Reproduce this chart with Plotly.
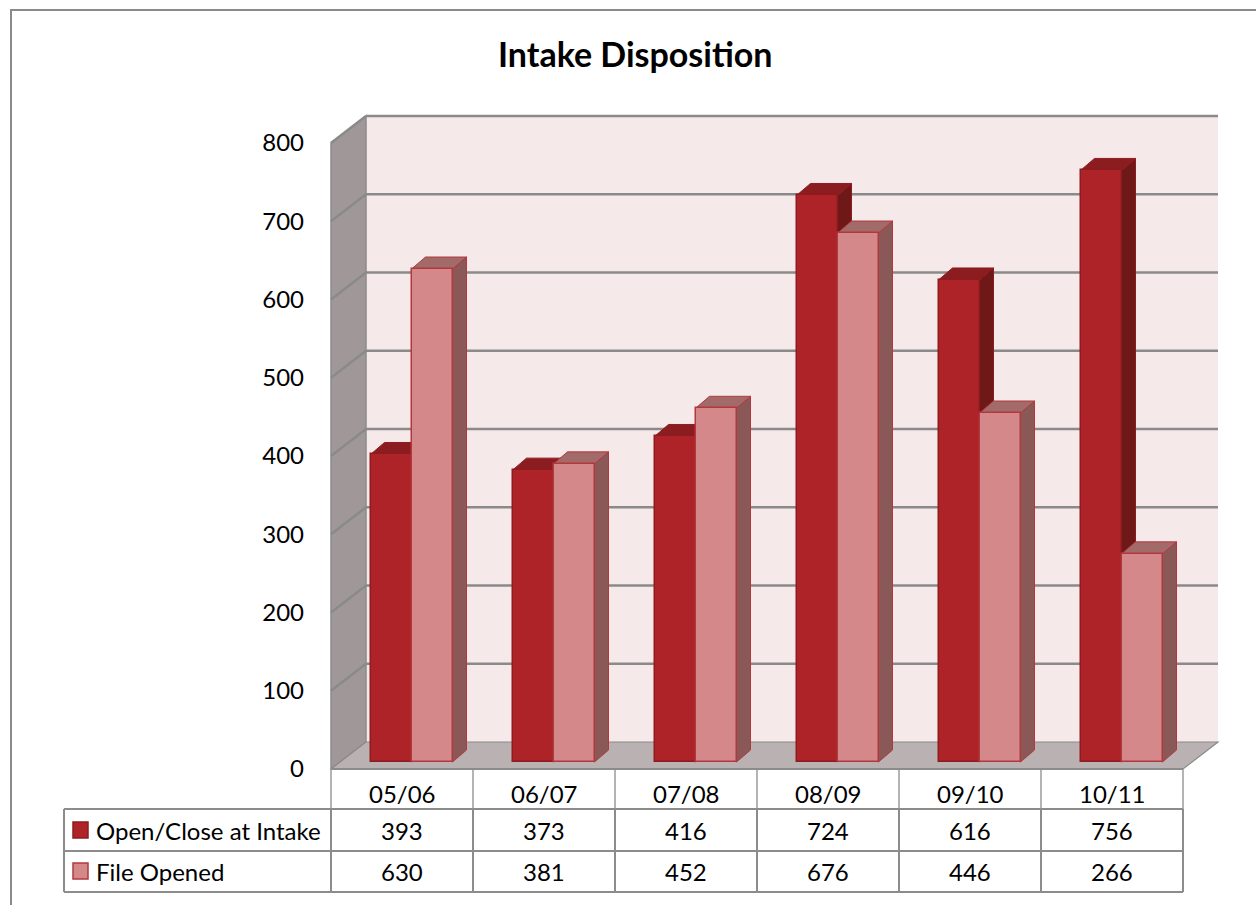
import plotly.graph_objects as go

# ---- data -------------------------------------------------------------
categories = ["05/06", "06/07", "07/08", "08/09", "09/10", "10/11"]
open_close = [393, 373, 416, 724, 616, 756]
file_opened = [630, 381, 452, 676, 446, 266]
series_names = ["Open/Close at Intake", "File Opened"]
y_ticks = [0, 100, 200, 300, 400, 500, 600, 700, 800]
title_text = "Intake Disposition"

# ---- page geometry (pixels) ------------------------------------------
W, H = 1256, 905
L, R, T, B = 320, 1230, 100, 780          # plot area
SLOT = 142.0                               # px per category
PXV = 0.7825                               # px per value unit
X0 = 402.0                                 # px centre of first category
Y0 = 769.0                                 # px of value 0 on the front plane

def dx(px):
    return px / SLOT

def dy(px):
    return px / PXV

def paper_x(px):
    return (px - L) / (R - L)

def paper_y(py):
    return (B - py) / (B - T)

# 3D box depth and bar placement (in axis units)
WDX, WDY = dx(35), dy(27)                  # wall depth
BAR_SHIFT, BAR_BASE = dx(9.5), dy(7)       # bars sit midway into the floor
BW = dx(41)                                # bar width
DDX, DDY = dx(14), dy(12)                  # bar depth

# colours
DARK = dict(front="#ad2328", side="#6e1818", top="#8b1c1f", edge="#8e1b1f")
LIGHT = dict(front="#d4888a", side="#8b5858", top="#a36a6a", edge="#b3383d")
WALL_BACK = "#f6e9ea"
WALL_SIDE = "#a09898"
FLOOR = "#bab2b2"
GRID = "#8a8a8a"
FONT = "Lato"
TXT = 24

nmax = len(categories)
xl, xr = -0.5, nmax - 0.5
vmax = y_ticks[-1]

shapes = []

def poly(points, fill, line_color=None, width=0, xref="x", yref="y", layer="below"):
    path = "M " + " L ".join(f"{x},{y}" for x, y in points) + " Z"
    shapes.append(dict(type="path", path=path, xref=xref, yref=yref,
                       fillcolor=fill, layer=layer,
                       line=dict(color=line_color or fill, width=width)))

def seg(x0, y0, x1, y1, color=GRID, width=2.5, xref="x", yref="y", layer="below"):
    shapes.append(dict(type="line", x0=x0, y0=y0, x1=x1, y1=y1, xref=xref,
                       yref=yref, layer=layer, line=dict(color=color, width=width)))

# back wall, side wall, floor
poly([(xl + WDX, WDY), (xr + WDX, WDY), (xr + WDX, vmax + WDY), (xl + WDX, vmax + WDY)], WALL_BACK)
poly([(xl, 0), (xl + WDX, WDY), (xl + WDX, vmax + WDY), (xl, vmax)], WALL_SIDE, GRID, 1.5)
poly([(xl, 0), (xr, 0), (xr + WDX, WDY), (xl + WDX, WDY)], FLOOR, GRID, 1.2)

# gridlines across side and back walls
for v in y_ticks[1:]:
    seg(xl, v, xl + WDX, v + WDY)
    seg(xl + WDX, v + WDY, xr + WDX, v + WDY)

# 3D side and top faces of every bar (front faces are the bar traces)
for i in range(nmax):
    xc = i + BAR_SHIFT
    for vals, off, col in ((open_close, -BW, DARK), (file_opened, 0.0, LIGHT)):
        v = vals[i]
        x_l, x_r = xc + off, xc + off + BW
        top = BAR_BASE + v
        poly([(x_r, BAR_BASE), (x_r, top), (x_r + DDX, top + DDY), (x_r + DDX, BAR_BASE + DDY)],
             col["side"], col["edge"], 1)
        poly([(x_l, top), (x_r, top), (x_r + DDX, top + DDY), (x_l + DDX, top + DDY)],
             col["top"], col["edge"], 1)

fig = go.Figure()
xpos = [i + BAR_SHIFT for i in range(nmax)]
for vals, off, col, name in ((open_close, -BW, DARK, series_names[0]),
                             (file_opened, 0.0, LIGHT, series_names[1])):
    fig.add_trace(go.Bar(
        x=xpos, y=vals, base=BAR_BASE, width=BW, offset=off, name=name,
        marker=dict(color=col["front"], line=dict(color=col["edge"], width=1.5)),
        showlegend=False, hovertext=categories))

# ---- data table below the chart --------------------------------------
TABLE_LEFT = 64
COL0 = 331
ROW_Y = [769, 809, 851, 892]
col_x = [COL0 + SLOT * k for k in range(nmax + 1)]
TGRID = "#8c8c8c"

for x in col_x:
    seg(paper_x(x), paper_y(ROW_Y[0]), paper_x(x), paper_y(ROW_Y[1]), "#b4b4b4", 2, "paper", "paper", "above")
    seg(paper_x(x), paper_y(ROW_Y[1]), paper_x(x), paper_y(ROW_Y[3]), TGRID, 2, "paper", "paper", "above")
seg(paper_x(TABLE_LEFT), paper_y(ROW_Y[1]), paper_x(TABLE_LEFT), paper_y(ROW_Y[3]), TGRID, 2, "paper", "paper", "above")
for yy in ROW_Y[1:]:
    seg(paper_x(TABLE_LEFT), paper_y(yy), paper_x(col_x[-1]), paper_y(yy), TGRID, 2, "paper", "paper", "above")
seg(paper_x(col_x[0]), paper_y(ROW_Y[0]), paper_x(col_x[-1]), paper_y(ROW_Y[0]), TGRID, 2, "paper", "paper", "above")

annotations = []

def text(px, py, s, size=TXT, anchor="center", bold=False):
    annotations.append(dict(
        x=paper_x(px), y=paper_y(py), xref="paper", yref="paper",
        text=f"<b>{s}</b>" if bold else s, showarrow=False,
        xanchor=anchor, yanchor="middle",
        font=dict(family=FONT, size=size, color="#000000")))

row_mid = [793, 830, 871]
for k, cat in enumerate(categories):
    cx = COL0 + SLOT * (k + 0.5)
    text(cx, row_mid[0], cat)
    text(cx, row_mid[1], str(open_close[k]))
    text(cx, row_mid[2], str(file_opened[k]))

# legend keys inside the table
for r, (col, name) in enumerate(((DARK, series_names[0]), (LIGHT, series_names[1]))):
    ym = row_mid[r + 1]
    poly([(paper_x(73), paper_y(ym - 8)), (paper_x(88), paper_y(ym - 8)),
          (paper_x(88), paper_y(ym + 8)), (paper_x(73), paper_y(ym + 8))],
         col["front"], col["edge"], 1.5, "paper", "paper", "above")
    text(94, ym, name, anchor="left")

# title
text(635, 53, title_text, size=34, bold=True)

# outer chart frame
poly([(paper_x(11), paper_y(10)), (paper_x(1262), paper_y(10)),
      (paper_x(1262), paper_y(912)), (paper_x(11), paper_y(912))],
     "rgba(0,0,0,0)", "#8a8a8a", 2, "paper", "paper", "above")

fig.update_layout(
    width=W, height=H,
    margin=dict(l=L, r=W - R, t=T, b=H - B, pad=0),
    paper_bgcolor="#ffffff", plot_bgcolor="rgba(0,0,0,0)",
    barmode="overlay", bargap=0,
    shapes=shapes, annotations=annotations,
    font=dict(family=FONT, size=TXT, color="#000000"),
    xaxis=dict(range=[(L - X0) / SLOT, (R - X0) / SLOT], showgrid=False,
               zeroline=False, showticklabels=False, showline=False, fixedrange=True),
    yaxis=dict(range=[(Y0 - B) / PXV, (Y0 - T) / PXV], showgrid=False,
               zeroline=False, showline=False, tickvals=y_ticks,
               ticktext=[str(v) for v in y_ticks], ticks="",
               ticklabelstandoff=15, tickfont=dict(family=FONT, size=TXT),
               fixedrange=True),
)

fig.write_html("out.html")
